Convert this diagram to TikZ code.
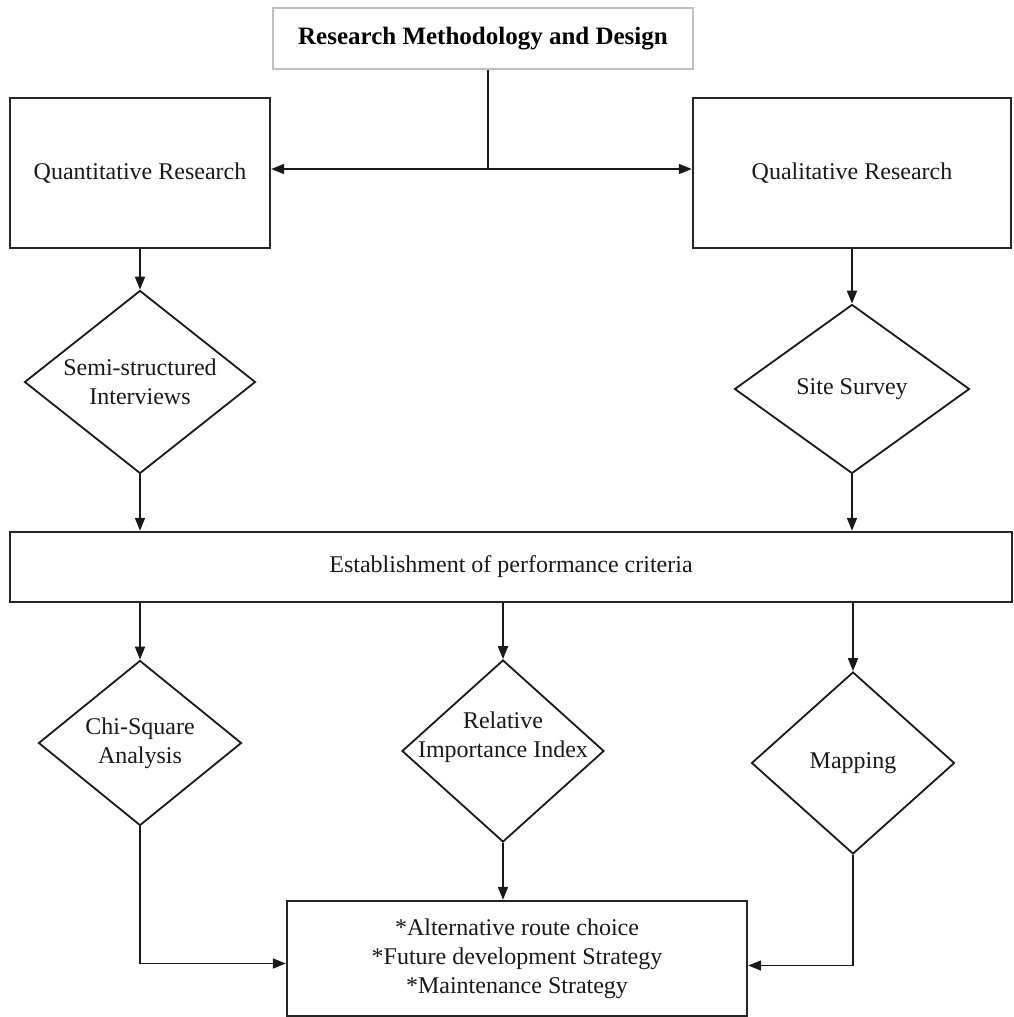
\documentclass[tikz,border=0pt]{standalone}
\usepackage{fontspec}
\setmainfont{Liberation Serif}
\usetikzlibrary{shapes.geometric,arrows.meta}
\tikzset{
  txt/.style={font=\fontsize{24}{29}\selectfont, align=center, text=black!90},
  box/.style={rectangle, draw=black!85, line width=2.4pt, inner sep=0pt, txt},
  titlebox/.style={rectangle, draw=black!25, line width=1.4pt, inner sep=0pt,
    font=\fontsize{25}{30}\selectfont\bfseries, align=center},
  dia/.style={diamond, draw=black!90, line width=1.8pt, inner sep=0pt},
  conn/.style={line width=1.8pt, draw=black!90},
  arr/.style={conn, -{Triangle[length=13pt,width=10pt]}}
}
\begin{document}
\begin{tikzpicture}[x=1pt,y=-1pt]
\fill[white] (0,0) rectangle (1013,1017);
\useasboundingbox (0,0) rectangle (1013,1017);

% top level
\node[titlebox, minimum width=420pt, minimum height=61pt] (title) at (483,38.5)
  {Research Methodology and Design};
\node[box, minimum width=260pt, minimum height=150pt] (quant) at (140,173)
  {Quantitative Research};
\node[box, minimum width=318pt, minimum height=150pt] (qual) at (852,173)
  {Qualitative Research};
\coordinate (junc) at (488,169);

% first diamonds
\node[dia, minimum width=231pt, minimum height=183pt,
  label={[txt]center:Semi-structured\\Interviews}] (semi) at (140,382) {};
\node[dia, minimum width=235pt, minimum height=169pt,
  label={[txt]center:Site Survey}] (site) at (852,389) {};

% criteria box
\node[box, minimum width=1002pt, minimum height=70pt] (estab) at (511,567)
  {Establishment of performance criteria};

% second diamonds
\node[dia, minimum width=203pt, minimum height=165pt,
  label={[txt]center:Chi-Square\\Analysis}] (chi) at (140,743) {};
\node[dia, minimum width=202pt, minimum height=182pt,
  label={[txt, yshift=14pt]center:Relative\\Importance Index}] (rii) at (503,751) {};
\node[dia, minimum width=203pt, minimum height=182pt,
  label={[txt]center:Mapping}] (map) at (853,763) {};

% final box
\node[box, minimum width=460pt, minimum height=115pt] (final) at (517,958.5)
  {*Alternative route choice\\*Future development Strategy\\*Maintenance Strategy};

% connectors
\draw[conn] (title.south -| junc) -- (junc);
\draw[arr] (junc) -- (quant.east |- junc);
\draw[arr] (junc) -- (qual.west |- junc);
\draw[arr] (quant.south) -- (semi.north);
\draw[arr] (qual.south) -- (site.north);
\draw[arr] (semi.south) -- (semi.south |- estab.north);
\draw[arr] (site.south) -- (site.south |- estab.north);
\draw[arr] (estab.south -| chi.north) -- (chi.north);
\draw[arr] (estab.south -| rii.north) -- (rii.north);
\draw[arr] (estab.south -| map.north) -- (map.north);
\draw[arr] (chi.south) |- ([yshift=-5pt]final.west);
\draw[arr] (rii.south) -- (rii.south |- final.north);
\draw[arr] (map.south) |- ([yshift=-7pt]final.east);
\end{tikzpicture}
\end{document}
